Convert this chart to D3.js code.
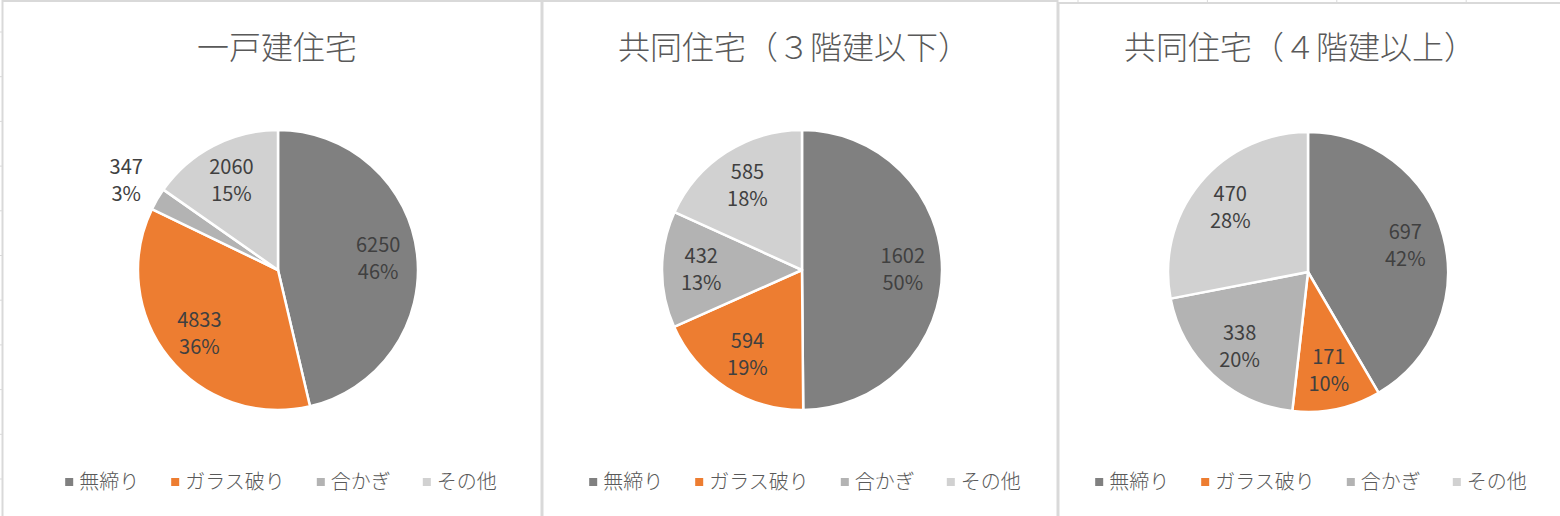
<!DOCTYPE html>
<html>
<head>
<meta charset="utf-8">
<script src="https://cdn.jsdelivr.net/npm/d3@7"></script>
<style>
	body {
		margin: 0;
		background-color: white;
	}
	svg {
		display: block;
		font-family: "Noto Sans CJK JP", "Noto Sans", sans-serif;
	}
</style>
</head>
<body>
<script>
	// chart data
	var categories = ["無締り", "ガラス破り", "合かぎ", "その他"];
	var titles = ["一戸建住宅", "共同住宅（３階建以下）", "共同住宅（４階建以上）"];
	var detachedValues = [6250, 4833, 347, 2060];
	var detachedPct = ["46%", "36%", "3%", "15%"];
	var lowRiseValues = [1602, 594, 432, 585];
	var lowRisePct = ["50%", "19%", "13%", "18%"];
	var highRiseValues = [697, 171, 338, 470];
	var highRisePct = ["42%", "10%", "20%", "28%"];

	var colors = ["#808080", "#ed7d31", "#b3b3b3", "#d1d1d1"];
	var width = 1560, height = 516;
	var radius = 140;

	// layout of the three excel chart boxes
	var panels = [
		{title: titles[0], values: detachedValues, pct: detachedPct, x0: 2, x1: 541, top: 1, cx: 278, cy: 270, tx: 277},
		{title: titles[1], values: lowRiseValues, pct: lowRisePct, x0: 542, x1: 1057, top: 1, cx: 802, cy: 270, tx: 794},
		{title: titles[2], values: highRiseValues, pct: highRisePct, x0: 1058, x1: 1566, top: 3, cx: 1308, cy: 272, tx: 1300}
	];

	var svg = d3.select("body")
		.append("svg")
		.attr("width", width)
		.attr("height", height);

	svg.append("rect")
		.attr("width", width)
		.attr("height", height)
		.attr("fill", "white");

	// spreadsheet grid bits peeking out around the charts
	svg.selectAll("line.row")
		.data(d3.range(32, height, 44.7))
		.enter()
		.append("line")
		.attr("class", "row")
		.attr("x1", 0).attr("x2", 2)
		.attr("y1", function(d) { return d; })
		.attr("y2", function(d) { return d; })
		.attr("stroke", "#d9d9d9")
		.attr("stroke-width", 1);

	svg.selectAll("line.col")
		.data(d3.range(1078, width, 129.4))
		.enter()
		.append("line")
		.attr("class", "col")
		.attr("x1", function(d) { return d; })
		.attr("x2", function(d) { return d; })
		.attr("y1", 0).attr("y2", 3)
		.attr("stroke", "#d9d9d9")
		.attr("stroke-width", 1);

	var pie = d3.pie().sort(null).value(function(d) { return d; });
	var arc = d3.arc().innerRadius(0).outerRadius(radius);

	panels.forEach(function(p) {
		var g = svg.append("g");

		g.append("rect")
			.attr("x", p.x0 + 0.5)
			.attr("y", p.top)
			.attr("width", p.x1 - p.x0)
			.attr("height", height + 10)
			.attr("fill", "white")
			.attr("stroke", "#d9d9d9")
			.attr("stroke-width", 2);

		g.append("text")
			.attr("x", p.tx)
			.attr("y", 59)
			.attr("text-anchor", "middle")
			.attr("fill", "#595959")
			.attr("font-size", "32px")
			.attr("font-weight", 300)
			.text(p.title);

		var total = d3.sum(p.values);
		var arcs = pie(p.values);
		var chart = g.append("g")
			.attr("transform", "translate(" + p.cx + "," + p.cy + ")");

		chart.selectAll("path")
			.data(arcs)
			.enter()
			.append("path")
			.attr("d", arc)
			.attr("fill", function(d, i) { return colors[i]; })
			.attr("stroke", "white")
			.attr("stroke-width", 2.5)
			.attr("stroke-linejoin", "round");

		// small slices get their label outside the pie
		var labels = chart.selectAll("g.label")
			.data(arcs)
			.enter()
			.append("g")
			.attr("class", "label")
			.attr("transform", function(d) {
				var r = d.value / total < 0.05 ? radius + 36 : radius * 0.72;
				var c = d3.arc().innerRadius(r).outerRadius(r).centroid(d);
				return "translate(" + c[0] + "," + c[1] + ")";
			});

		labels.append("text")
			.attr("y", -6.5)
			.attr("text-anchor", "middle")
			.attr("fill", "#404040")
			.attr("font-size", "20px")
			.text(function(d) { return d.value; });

		labels.append("text")
			.attr("y", 20.5)
			.attr("text-anchor", "middle")
			.attr("fill", "#404040")
			.attr("font-size", "20px")
			.text(function(d, i) { return p.pct[i]; });

		// legend
		var legend = g.append("g");
		var pos = 0;
		categories.forEach(function(c, i) {
			var item = legend.append("g").attr("transform", "translate(" + pos + ",0)");
			item.append("rect")
				.attr("x", 0)
				.attr("y", 478)
				.attr("width", 8)
				.attr("height", 8)
				.attr("fill", colors[i]);
			var t = item.append("text")
				.attr("x", 14)
				.attr("y", 489)
				.attr("fill", "#595959")
				.attr("font-size", "20px")
				.attr("font-weight", 300)
				.text(c);
			pos += 14 + t.node().getComputedTextLength() + 32;
		});
		var legendWidth = pos - 32;
		legend.attr("transform", "translate(" + (p.cx + 3 - legendWidth / 2) + ",0)");
	});
</script>
</body>
</html>
